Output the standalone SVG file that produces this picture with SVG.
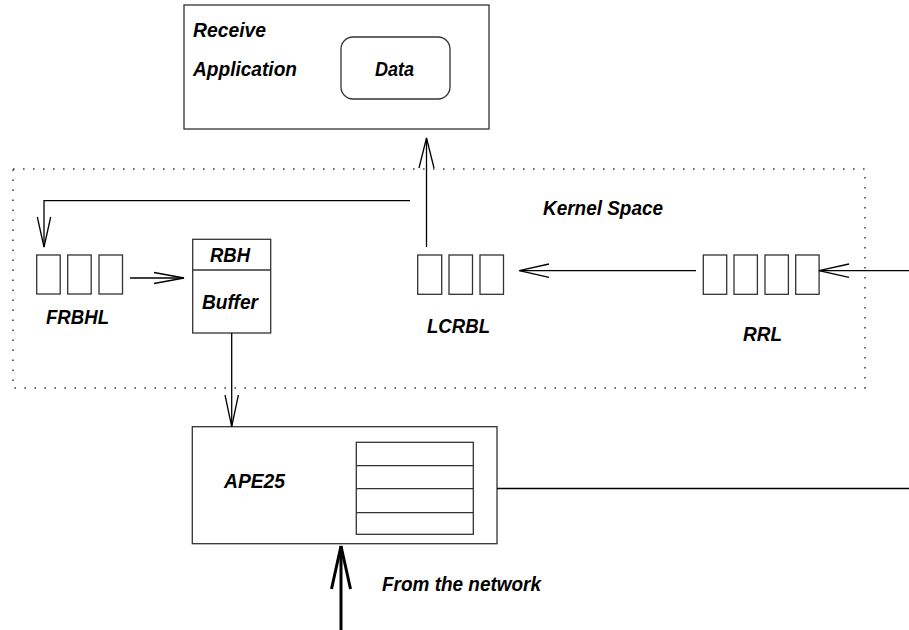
<svg xmlns="http://www.w3.org/2000/svg" width="909" height="630" viewBox="0 0 909 630">
<style>
.box{fill:none;stroke:#333;stroke-width:1.3}
.ln{fill:none;stroke:#000;stroke-width:1.3}
.dot{fill:none;stroke:#444;stroke-width:1.6;stroke-dasharray:1.6 8.4}
.t{font-family:"Liberation Sans",Arial,sans-serif;font-weight:bold;font-style:italic;font-size:20px;fill:#000}
</style>
<rect width="909" height="630" fill="#fff"/>
<g id="kernel-space">
<rect class="dot" x="13" y="169" width="852" height="219"/>
<text class="t" x="543" y="215" textLength="120" lengthAdjust="spacingAndGlyphs">Kernel Space</text>
</g>
<g id="receive-application">
<rect class="box" x="184" y="5" width="305" height="124"/>
<text class="t" x="193" y="37" textLength="73" lengthAdjust="spacingAndGlyphs">Receive</text>
<text class="t" x="193" y="76" textLength="104" lengthAdjust="spacingAndGlyphs">Application</text>
</g>
<g id="data">
<rect class="box" x="341" y="37" width="109" height="62" rx="12" ry="12"/>
<text class="t" x="375" y="76" textLength="39" lengthAdjust="spacingAndGlyphs">Data</text>
</g>
<g id="frbhl">
<rect class="box" x="36.7" y="255" width="23.5" height="39"/>
<rect class="box" x="67.7" y="255" width="23.5" height="39"/>
<rect class="box" x="99" y="255" width="23.5" height="39"/>
<text class="t" x="46" y="324" textLength="63" lengthAdjust="spacingAndGlyphs">FRBHL</text>
</g>
<g id="rbh-buffer">
<rect class="box" x="192.7" y="239.3" width="78" height="93.7"/>
<line class="box" x1="192.7" y1="270" x2="270.7" y2="270"/>
<text class="t" x="210" y="262" textLength="40" lengthAdjust="spacingAndGlyphs">RBH</text>
<text class="t" x="202" y="309" textLength="56" lengthAdjust="spacingAndGlyphs">Buffer</text>
</g>
<g id="lcrbl">
<rect class="box" x="417.7" y="255" width="24" height="39.3"/>
<rect class="box" x="449" y="255" width="23.5" height="39.3"/>
<rect class="box" x="480" y="255" width="23.5" height="39.3"/>
<text class="t" x="427" y="333" textLength="63" lengthAdjust="spacingAndGlyphs">LCRBL</text>
</g>
<g id="rrl">
<rect class="box" x="703.3" y="255" width="23.4" height="39.3"/>
<rect class="box" x="734" y="255" width="23.4" height="39.3"/>
<rect class="box" x="765" y="255" width="23.4" height="39.3"/>
<rect class="box" x="795.7" y="255" width="23.4" height="39.3"/>
<text class="t" x="743" y="341" textLength="39" lengthAdjust="spacingAndGlyphs">RRL</text>
</g>
<g id="ape25">
<rect class="box" x="192.3" y="426.7" width="304.7" height="117"/>
<rect class="box" x="356.3" y="442.3" width="117" height="92"/>
<line class="box" x1="356.3" y1="465.7" x2="473.3" y2="465.7"/>
<line class="box" x1="356.3" y1="488.7" x2="473.3" y2="488.7"/>
<line class="box" x1="356.3" y1="512.7" x2="473.3" y2="512.7"/>
<text class="t" x="224" y="488" textLength="61" lengthAdjust="spacingAndGlyphs">APE25</text>
</g>
<g id="network-label">
<text class="t" x="382" y="591" textLength="159" lengthAdjust="spacingAndGlyphs">From the network</text>
</g>
<g id="connectors">
<path class="ln" d="M426.5 247 V138"/>
<path class="ln" d="M419 168 L426.5 138 L434 168"/>
<path class="ln" d="M410 200.7 H44 V247"/>
<path class="ln" d="M37.3 217 L44 247 L50.7 217"/>
<path class="ln" d="M130 278 H184"/>
<path class="ln" d="M154 272.5 L184 278 L154 283.5"/>
<path class="ln" d="M231.7 333 V426.7"/>
<path class="ln" d="M225 395 L231.7 426.7 L238.4 395"/>
<path class="ln" d="M696 270.7 H519.3"/>
<path class="ln" d="M549 264 L519.3 270.7 L549 277.4"/>
<path class="ln" d="M909 270.7 H819"/>
<path class="ln" d="M849 264 L819 270.7 L849 277.4"/>
<path class="ln" d="M497 488.5 H909"/>
<path fill="none" stroke="#000" stroke-width="3" d="M341 630 V546"/>
<path fill="none" stroke="#000" stroke-width="3" d="M331.5 589 L341 546 L350.5 589"/>
</g>
</svg>
